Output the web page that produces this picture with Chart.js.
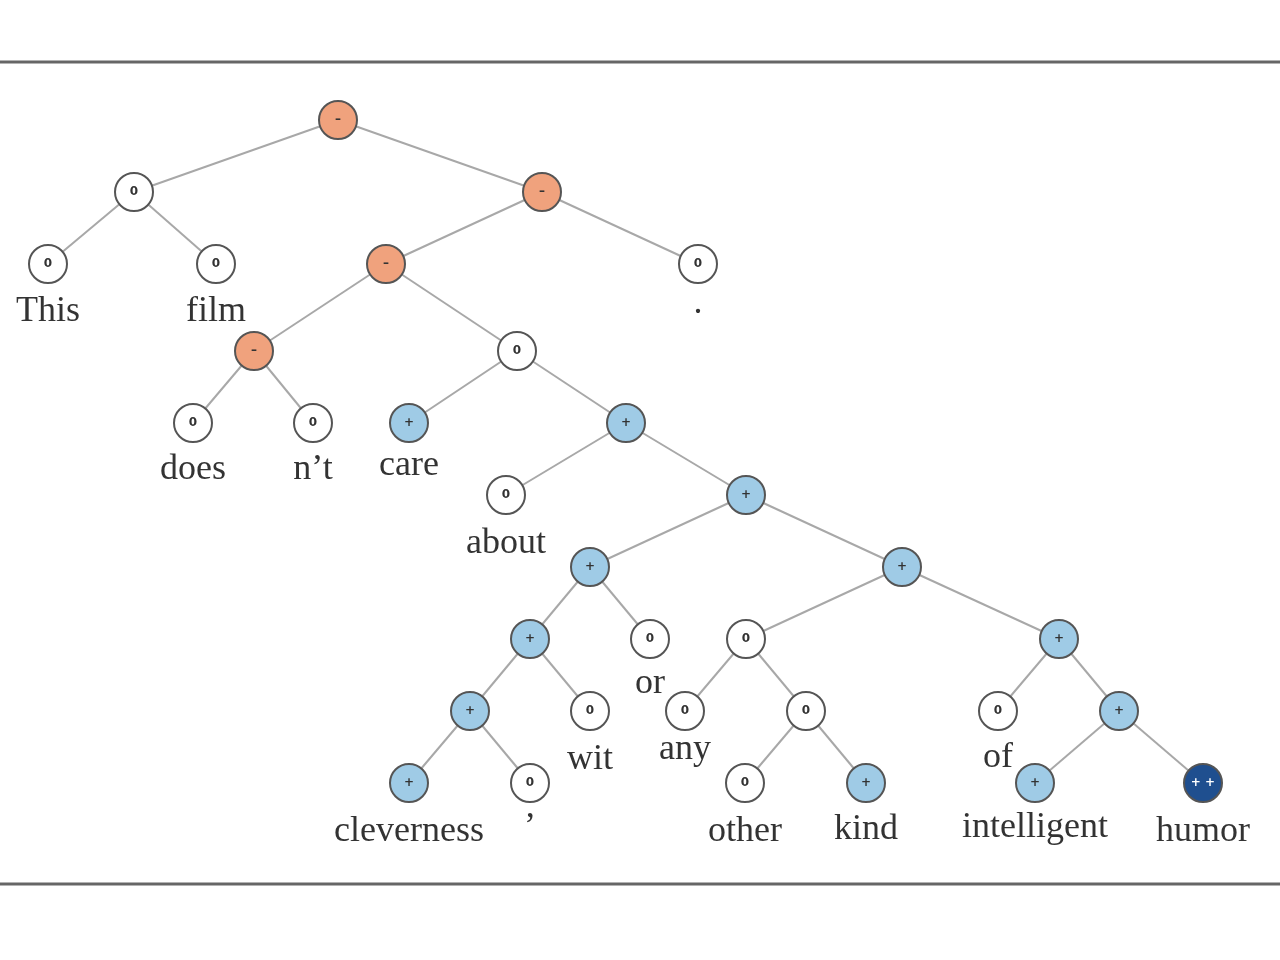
<!DOCTYPE html>
<html>
<head>
<meta charset="utf-8">
<script src="https://cdn.jsdelivr.net/npm/chart.js@4/dist/chart.umd.min.js"></script>
<style>
  html, body { margin: 0; padding: 0; background: #fff; }
  #wrap { width: 1280px; height: 960px; }
</style>
</head>
<body>
<div id="wrap"><canvas id="tree" width="1280" height="960"></canvas></div>
<script>
// Tree nodes: id, x, y, sentiment ("-", "0", "+", "++"), word (leaves only)
const nodeIds   = ["root","A","B","this","film","C","dot","D","E","does","nt","care","F","about","G","H","I","J","or","K","L","M","wit","any","N","of","O","clev","comma","other","kind","intel","humor"];
const nodeX     = [338,134,542,48,216,386,698,254,517,193,313,409,626,506,746,590,902,530,650,746,1059,470,590,685,806,998,1119,409,530,745,866,1035,1203];
const nodeY     = [120,192,192,264,264,264,264,351,351,423,423,423,423,495,495,567,567,639,639,639,639,711,711,711,711,711,711,783,783,783,783,783,783];
const nodeSent  = ["-","0","-","0","0","-","0","-","0","0","0","+","+","0","+","+","+","+","0","0","+","+","0","0","0","0","+","+","0","0","+","+","++"];
const nodeWord  = ["","","","This","film","",".","","","does","n’t","care","","about","","","","","or","","","","wit","any","","of","","cleverness","’","other","kind","intelligent","humor"];
const wordY     = [0,0,0,312,312,0,304,0,0,470,470,466,0,544,0,0,0,0,684,0,0,0,760,750,0,758,0,832,828,832,830,828,832];

// parent -> child
const edgeFrom = ["root","root","A","A","B","B","C","C","D","D","E","E","F","F","G","G","H","H","J","J","M","M","I","I","K","K","N","N","L","L","O","O"];
const edgeTo   = ["A","B","this","film","C","dot","D","E","does","nt","care","F","about","G","H","I","J","or","M","wit","clev","comma","K","L","any","N","other","kind","of","O","intel","humor"];

const frameY = [62, 884];

const FILL = { "-": "#f0a27d", "0": "#ffffff", "+": "#9fcbe6", "++": "#1f4f8f" };
const idx = (id) => nodeIds.indexOf(id);

const edgeSets = edgeFrom.map((f, i) => ({
  type: "line",
  data: [{ x: nodeX[idx(f)], y: nodeY[idx(f)] }, { x: nodeX[idx(edgeTo[i])], y: nodeY[idx(edgeTo[i])] }],
  borderColor: "#a8a8a8",
  borderWidth: 2,
  pointRadius: 0,
  order: 2,
}));

const nodeSet = {
  type: "scatter",
  data: nodeX.map((x, i) => ({ x, y: nodeY[i] })),
  pointRadius: 19,
  pointBackgroundColor: nodeSent.map((s) => FILL[s]),
  pointBorderColor: "#555",
  pointBorderWidth: 2,
  order: 1,
};

const treeText = {
  id: "treeText",
  beforeDatasetsDraw(chart) {
    const { ctx, chartArea, scales } = chart;
    ctx.save();
    ctx.strokeStyle = "#666";
    ctx.lineWidth = 3;
    frameY.forEach((y) => {
      const py = scales.y.getPixelForValue(y);
      ctx.beginPath();
      ctx.moveTo(chartArea.left, py);
      ctx.lineTo(chartArea.right, py);
      ctx.stroke();
    });
    ctx.restore();
  },
  afterDatasetsDraw(chart) {
    const { ctx, scales } = chart;
    ctx.save();
    ctx.textAlign = "center";
    ctx.textBaseline = "middle";
    nodeX.forEach((x, i) => {
      const px = scales.x.getPixelForValue(x);
      const py = scales.y.getPixelForValue(nodeY[i]);
      const s = nodeSent[i];
      ctx.fillStyle = s === "++" ? "#fff" : "#333";
      ctx.font = "bold 12px 'DejaVu Sans'";
      ctx.fillText(s === "-" ? "–" : s === "++" ? "+ +" : s, px, py);
      if (nodeWord[i]) {
        ctx.fillStyle = "#333";
        ctx.font = "36px 'Liberation Serif'";
        ctx.fillText(nodeWord[i], px, scales.y.getPixelForValue(wordY[i]));
      }
    });
    ctx.restore();
  },
};

new Chart(document.getElementById("tree"), {
  data: { datasets: [...edgeSets, nodeSet] },
  options: {
    responsive: false,
    devicePixelRatio: 1,
    animation: false,
    clip: false,
    layout: { padding: 0, autoPadding: false },
    plugins: { legend: { display: false }, tooltip: { enabled: false } },
    scales: {
      x: { type: "linear", min: 0, max: 1280, display: false },
      y: { type: "linear", min: 0, max: 960, reverse: true, display: false },
    },
  },
  plugins: [treeText],
});
</script>
</body>
</html>
